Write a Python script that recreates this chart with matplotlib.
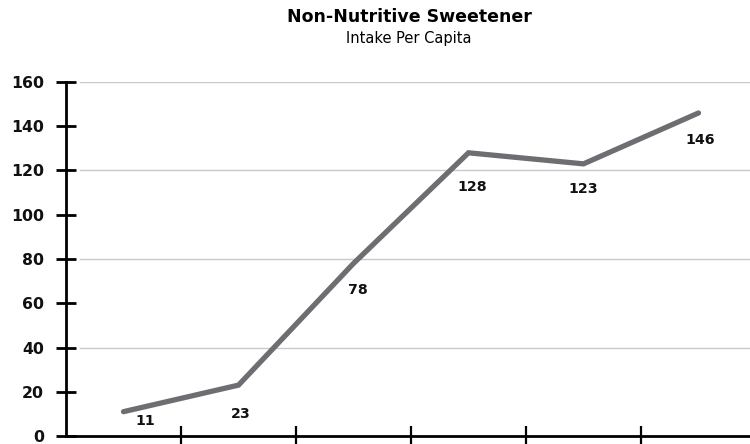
import matplotlib
matplotlib.use("Agg")
import matplotlib.pyplot as plt
import numpy as np

# data
categories = ["1", "2", "3", "4", "5", "6"]
values = [11, 23, 78, 128, 123, 146]
labels = ["11", "23", "78", "128", "123", "146"]

y_ticks = list(range(0, 161, 20))
grid_levels = [40, 80, 120, 160]

# label offsets in pixels (dx, dy), matching the reference placement
label_offsets = [(22, -9), (2, -29), (4, -27), (4, -34), (0, -25), (2, -27)]

LINE_COLOR = "#6d6e71"
FONT = ["DejaVu Sans"]

fig = plt.figure(figsize=(7.5, 4.44), dpi=100)
# axes: left spine at x=66px, bottom at y=436px, 160 at y=82px
ax = fig.add_axes([66 / 750, (444 - 436) / 444, 690 / 750, (436 - 82) / 444])

x = np.arange(len(categories))
ax.plot(x, values, color=LINE_COLOR, lw=3.8, solid_capstyle="round",
        solid_joinstyle="miter", zorder=3)

for xi, v, lab, (dx, dy) in zip(x, values, labels, label_offsets):
    ax.annotate(lab, (xi, v), xytext=(dx, dy), textcoords="offset pixels",
                ha="center", va="center", fontsize=10.2, fontweight="bold",
                family=FONT, color="#111111", zorder=4)

for g in grid_levels:
    ax.axhline(g, xmin=0.02, xmax=1, color="#c8c8cc", lw=1.0, zorder=1)

ax.set_xlim(-0.5, len(categories) - 0.5)
ax.set_ylim(0, 160)
ax.set_yticks(y_ticks)
ax.set_yticklabels([str(t) for t in y_ticks], fontsize=11.3, fontweight="bold",
                   family=FONT, color="#111111")
ax.set_xticks(np.arange(len(categories) - 1) + 0.5)
ax.set_xticklabels([])

for side in ("top", "right"):
    ax.spines[side].set_visible(False)
for side in ("left", "bottom"):
    ax.spines[side].set_linewidth(2.0)
    ax.spines[side].set_color("black")
    ax.spines[side].set_zorder(5)
ax.tick_params(axis="y", direction="inout", length=14, width=2.0, pad=9)
ax.tick_params(axis="x", direction="inout", length=14, width=1.6)
ax.spines["left"].set_bounds(0, 160)

fig.text(409 / 750, 1 - 17 / 444, "Non-Nutritive Sweetener", ha="center",
         va="center", fontsize=12.5, fontweight="bold", family=FONT)
fig.text(409 / 750, 1 - 39 / 444, "Intake Per Capita", ha="center",
         va="center", fontsize=10.5, family=FONT)

fig.savefig("out.png", dpi=100)
